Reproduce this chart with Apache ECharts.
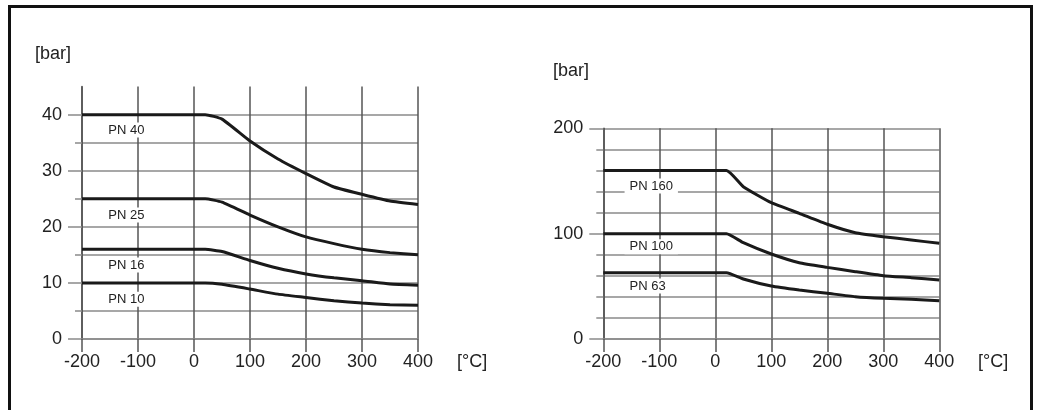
<!DOCTYPE html>
<html>
<head>
<meta charset="utf-8">
<script src="https://cdn.jsdelivr.net/npm/echarts@6/dist/echarts.min.js"></script>
<style>
  html, body { margin: 0; padding: 0; background: #fff; }
  #wrap { position: relative; width: 1042px; height: 410px; overflow: hidden; }
  #chart { position: absolute; left: 0; top: 0; width: 1042px; height: 410px; }
  #frame { position: absolute; left: 8px; top: 5px; width: 1025px; height: 430px;
           box-sizing: border-box; border: 3px solid #111; pointer-events: none; }
</style>
</head>
<body>
<div id="wrap">
  <div id="chart"></div>
  <div id="frame"></div>
</div>
<script>
// temperatures [°C] shared by all curves
const temps = [-200, 20, 50, 100, 150, 200, 250, 300, 350, 400];

// left chart: PN 10 .. PN 40 [bar]
const pn40 = [40, 40, 39.2, 35.3, 32.1, 29.5, 27.1, 25.8, 24.6, 24.0];
const pn25 = [25, 25, 24.4, 22.1, 20.0, 18.2, 17.0, 16.0, 15.4, 15.0];
const pn16 = [16, 16, 15.6, 14.0, 12.6, 11.6, 10.9, 10.4, 9.8, 9.6];
const pn10 = [10, 10, 9.75, 8.9, 8.0, 7.4, 6.8, 6.4, 6.1, 6.0];

// right chart: PN 63 .. PN 160 [bar]
const pn160 = [160, 160, 144.6, 129.4, 119.3, 108.9, 100.9, 97.1, 94.0, 90.8];
const pn100 = [100, 100, 91.4, 80.7, 72.4, 68.0, 63.9, 60.1, 58.2, 56.0];
const pn63 = [63, 63, 57.0, 50.3, 46.5, 43.4, 40.2, 38.6, 37.7, 36.4];

const leftNames = ['PN 40', 'PN 25', 'PN 16', 'PN 10'];
const rightNames = ['PN 160', 'PN 100', 'PN 63'];
// where the curve names sit (temperature, pressure)
const leftLabelPos = [[-162, 37.25], [-162, 22.1], [-162, 13.2], [-162, 7.1]];
const rightLabelPos = [[-162, 145.2], [-162, 87.6], [-162, 50.3]];

const leftMajor = [0, 10, 20, 30, 40];
const leftMinor = [5, 15, 25, 35];
const rightMajor = [0, 100, 200];
const rightMinor = [20, 40, 60, 80, 120, 140, 160, 180];

const FONT = "'Liberation Sans', Arial, sans-serif";
const GRID_H = '#8a8a8a';
const GRID_V = '#555555';
const INK = '#1a1a1a';

const chart = echarts.init(document.getElementById('chart'));

function xAxis(gridIndex) {
  return {
    type: 'value', gridIndex: gridIndex,
    min: -200, max: 400, interval: 100,
    axisLine: { show: true, onZero: false, lineStyle: { color: GRID_H, width: 1.5 } },
    axisTick: { show: true, inside: false, length: 13, lineStyle: { color: GRID_V, width: 1.5 } },
    axisLabel: { margin: 14, color: '#222', fontFamily: FONT, fontSize: 18 },
    splitLine: { show: true, lineStyle: { color: GRID_V, width: 1.5 } }
  };
}

// main axis draws grid lines and labels, two helper axes draw long and short ticks
function yAxes(gridIndex, max, interval, major, minor, showMax) {
  const base = { type: 'value', gridIndex: gridIndex, position: 'left',
                 min: 0, max: max, interval: interval };
  return [Object.assign({}, base, {
    axisLine: { show: true, onZero: false, lineStyle: { color: GRID_V, width: 1.5 } },
    axisTick: { show: false },
    axisLabel: { margin: 20, color: '#222', fontFamily: FONT, fontSize: 18,
                 formatter: v => (major.indexOf(v) >= 0 ? String(v) : '') },
    splitLine: { show: true, showMaxLine: showMax, lineStyle: { color: GRID_H, width: 1.5 } }
  }), Object.assign({}, base, {
    axisLine: { show: false, onZero: false },
    axisTick: { show: true, length: 14, customValues: major, lineStyle: { color: GRID_H, width: 1.5 } },
    axisLabel: { show: false },
    splitLine: { show: false }
  }), Object.assign({}, base, {
    axisLine: { show: false, onZero: false },
    axisTick: { show: true, length: 7, customValues: minor, lineStyle: { color: GRID_H, width: 1.5 } },
    axisLabel: { show: false },
    splitLine: { show: false }
  })];
}

function curve(name, values, xi, yi, labelPos) {
  return {
    name: name, type: 'line',
    xAxisIndex: xi, yAxisIndex: yi,
    data: temps.map((t, i) => [t, values[i]]),
    showSymbol: false, smooth: 0.15,
    lineStyle: { color: INK, width: 3 },
    z: 3,
    markPoint: {
      symbol: 'rect', symbolSize: 1,
      itemStyle: { color: 'rgba(0,0,0,0)' },
      silent: true,
      label: {
        show: true, position: 'inside', align: 'left',
        formatter: name, color: '#222', fontFamily: FONT, fontSize: 13,
        backgroundColor: '#fff', padding: [1, 5]
      },
      data: [{ coord: labelPos }]
    }
  };
}

const leftVals = [pn40, pn25, pn16, pn10];
const rightVals = [pn160, pn100, pn63];

const series = [];
leftVals.forEach((v, i) => series.push(curve(leftNames[i], v, 0, 0, leftLabelPos[i])));
rightVals.forEach((v, i) => series.push(curve(rightNames[i], v, 1, 3, rightLabelPos[i])));

const textStyle = (t, x, y) => ({
  type: 'text', left: x, top: y,
  style: { text: t, fill: '#222', font: '18px ' + FONT }
});

chart.setOption({
  animation: false,
  grid: [
    { left: 82, top: 86.6, width: 336, height: 252.4 },
    { left: 603.3, top: 128.3, width: 336, height: 210.7 }
  ],
  xAxis: [xAxis(0), xAxis(1)],
  yAxis: yAxes(0, 45, 5, leftMajor, leftMinor, false)
    .concat(yAxes(1, 200, 20, rightMajor, rightMinor, true)),
  graphic: [
    textStyle('[bar]', 35, 45),
    textStyle('[bar]', 553, 62),
    textStyle('[°C]', 457, 353),
    textStyle('[°C]', 978, 353)
  ],
  series: series
});
</script>
</body>
</html>
